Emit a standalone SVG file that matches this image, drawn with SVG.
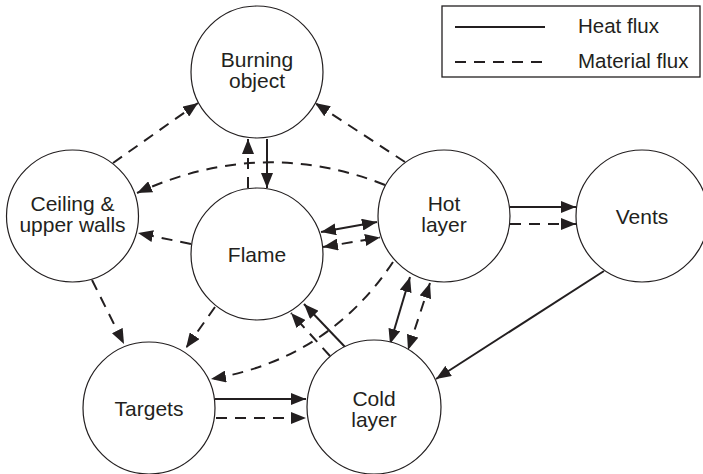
<svg xmlns="http://www.w3.org/2000/svg" width="703" height="474" viewBox="0 0 703 474">
<style>
.node{fill:#fff;stroke:#231f20;stroke-width:1.2}
.lbl{font-family:"Liberation Sans",Arial,sans-serif;font-size:21px;fill:#231f20;text-anchor:middle}
.leg{font-family:"Liberation Sans",Arial,sans-serif;font-size:20.5px;fill:#231f20}
.heat{fill:none;stroke:#231f20;stroke-width:2}
.mat{fill:none;stroke:#231f20;stroke-width:2;stroke-dasharray:11 8}
</style>
<defs>
<marker id="ah" viewBox="0 0 15 12" refX="15" refY="6" markerWidth="15" markerHeight="12" markerUnits="userSpaceOnUse" orient="auto-start-reverse">
<path d="M0,0 L15,6 L0,12 z" fill="#231f20"/>
</marker>
</defs>
<g id="legend">
<rect x="442" y="6" width="258" height="71" fill="#fff" stroke="#231f20" stroke-width="1.3"/>
<line x1="455" y1="27" x2="545" y2="27" class="heat"/>
<line x1="455" y1="62" x2="545" y2="62" class="mat"/>
<text x="578" y="33" class="leg">Heat flux</text>
<text x="578" y="68" class="leg">Material flux</text>
</g>
<g id="connectors">
<line x1="113" y1="163" x2="198" y2="103" class="mat" marker-end="url(#ah)"/>
<line x1="405" y1="162" x2="315" y2="103" class="mat" marker-end="url(#ah)"/>
<line x1="248" y1="188" x2="248" y2="139" class="mat" marker-end="url(#ah)"/>
<line x1="267" y1="139" x2="267" y2="188" class="heat" marker-end="url(#ah)"/>
<path d="M385,185 Q262,136 137,193" class="mat" marker-end="url(#ah)"/>
<line x1="191" y1="244" x2="138" y2="233" class="mat" marker-end="url(#ah)"/>
<line x1="321" y1="232" x2="377" y2="222" class="heat" marker-start="url(#ah)" marker-end="url(#ah)"/>
<line x1="323" y1="247" x2="380" y2="237.5" class="mat" marker-start="url(#ah)" marker-end="url(#ah)"/>
<line x1="510" y1="207" x2="576" y2="207" class="heat" marker-end="url(#ah)"/>
<line x1="510" y1="224" x2="576" y2="224" class="mat" marker-end="url(#ah)"/>
<line x1="604" y1="271" x2="436" y2="379" class="heat" marker-end="url(#ah)"/>
<line x1="410" y1="277" x2="390" y2="344" class="heat" marker-start="url(#ah)" marker-end="url(#ah)"/>
<line x1="430" y1="283" x2="408" y2="350" class="mat" marker-start="url(#ah)" marker-end="url(#ah)"/>
<line x1="346" y1="348" x2="304" y2="304" class="heat" marker-end="url(#ah)"/>
<line x1="330" y1="356" x2="291" y2="313" class="mat" marker-end="url(#ah)"/>
<path d="M393,262 Q328,359.5 211,379" class="mat" marker-end="url(#ah)"/>
<line x1="92" y1="280" x2="124" y2="344" class="mat" marker-end="url(#ah)"/>
<line x1="215" y1="307" x2="186" y2="348" class="mat" marker-end="url(#ah)"/>
<line x1="215" y1="399" x2="306" y2="399" class="heat" marker-end="url(#ah)"/>
<line x1="216" y1="418" x2="306" y2="418" class="mat" marker-end="url(#ah)"/>
</g>
<g id="burning">
<circle cx="257" cy="72" r="66" class="node"/>
<text x="257" y="67" class="lbl">Burning</text>
<text x="257" y="88" class="lbl">object</text>
</g>
<g id="flame">
<circle cx="257" cy="254" r="66" class="node"/>
<text x="257" y="262" class="lbl">Flame</text>
</g>
<g id="ceiling">
<circle cx="72.5" cy="216" r="66" class="node"/>
<text x="72.5" y="211" class="lbl">Ceiling &amp;</text>
<text x="72.5" y="232" class="lbl">upper walls</text>
</g>
<g id="hot">
<circle cx="444" cy="216" r="66" class="node"/>
<text x="444" y="211" class="lbl">Hot</text>
<text x="444" y="232" class="lbl">layer</text>
</g>
<g id="vents">
<circle cx="642" cy="216" r="66" class="node"/>
<text x="642" y="224" class="lbl">Vents</text>
</g>
<g id="targets">
<circle cx="149" cy="408" r="66" class="node"/>
<text x="149" y="416" class="lbl">Targets</text>
</g>
<g id="cold">
<circle cx="374" cy="407" r="67" class="node"/>
<text x="374" y="406" class="lbl">Cold</text>
<text x="374" y="427" class="lbl">layer</text>
</g>
</svg>
